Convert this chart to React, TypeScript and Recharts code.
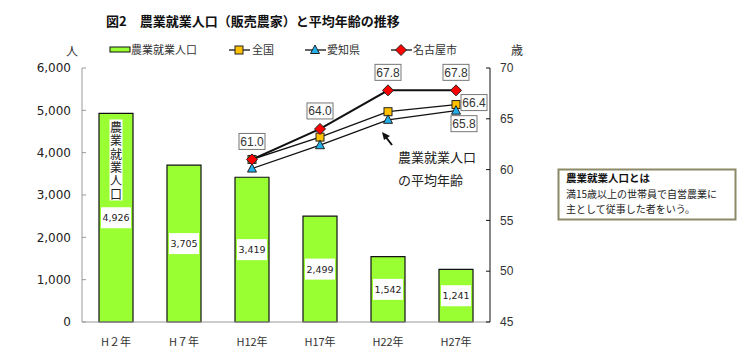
import { ComposedChart, Bar, Line, XAxis, YAxis, LabelList } from 'recharts'

const years = ['H２年', 'H７年', 'H12年', 'H17年', 'H22年', 'H27年']
const farmers = [4926, 3705, 3419, 2499, 1542, 1241]
const zenkoku = [null, null, 61.0, 63.2, 65.7, 66.4]
const aichi = [null, null, 60.1, 62.4, 64.9, 65.8]
const nagoya = [null, null, 61.0, 64.0, 67.8, 67.8]
const leftTicks = [0, 1000, 2000, 3000, 4000, 5000, 6000]
const rightTicks = [45, 50, 55, 60, 65, 70]

const data = years.map((year, i) => ({
  year,
  farmers: farmers[i],
  zenkoku: zenkoku[i],
  aichi: aichi[i],
  nagoya: nagoya[i],
}))

const JP = '"Noto Sans CJK JP", sans-serif'
const BAR_FILL = '#99ff33'
const SQ_FILL = '#ffc000'
const TRI_FILL = '#22aee8'
const DIA_FILL = '#ff0000'

function Square({ cx, cy }: { cx: number; cy: number }) {
  return <rect x={cx - 4} y={cy - 4} width={8} height={8} fill={SQ_FILL} stroke="#222" strokeWidth={1} />
}

function Triangle({ cx, cy }: { cx: number; cy: number }) {
  return (
    <polygon
      points={`${cx},${cy - 5} ${cx + 4.5},${cy + 3.5} ${cx - 4.5},${cy + 3.5}`}
      fill={TRI_FILL}
      stroke="#222"
      strokeWidth={1}
    />
  )
}

function Diamond({ cx, cy }: { cx: number; cy: number }) {
  return (
    <polygon
      points={`${cx},${cy - 5.5} ${cx + 5.5},${cy} ${cx},${cy + 5.5} ${cx - 5.5},${cy}`}
      fill={DIA_FILL}
      stroke="#222"
      strokeWidth={1}
    />
  )
}

function makeDot(Shape: typeof Square) {
  return (props: any) => {
    const { cx, cy, index, value } = props
    if (value == null || cx == null || cy == null) return <g key={`d${index}`} />
    return <Shape key={`d${index}`} cx={cx} cy={cy} />
  }
}

function BoxLabel({ cx, cy, text }: { cx: number; cy: number; text: string }) {
  return (
    <g>
      <rect x={cx - 13} y={cy - 8} width={26} height={16} fill="#fff" stroke="#777" strokeWidth={1} />
      <text x={cx} y={cy + 4.5} textAnchor="middle" fontSize={12} fontFamily="Liberation Sans, Arial" fill="#333">
        {text}
      </text>
    </g>
  )
}

function NagoyaLabel(props: any) {
  const { x, y, value } = props
  if (value == null) return null
  return <BoxLabel cx={x} cy={y - 18} text={Number(value).toFixed(1)} />
}

function ZenkokuLabel(props: any) {
  const { x, y, value, index } = props
  if (value == null || index !== years.length - 1) return null
  return <BoxLabel cx={x + 18} cy={y - 2} text={Number(value).toFixed(1)} />
}

function AichiLabel(props: any) {
  const { x, y, value, index } = props
  if (value == null || index !== years.length - 1) return null
  return <BoxLabel cx={x + 8} cy={y + 13} text={Number(value).toFixed(1)} />
}

function BarValueLabel(props: any) {
  const { x, y, width, height, value, index } = props
  const cx = x + width / 2
  const cy = y + height / 2
  return (
    <g>
      <rect x={cx - 15} y={cy - 10.5} width={30} height={21} fill="#fff" />
      <text x={cx} y={cy + 3.5} textAnchor="middle" fontSize={9.5} fontFamily="DejaVu Sans" fill="#222">
        {Number(value).toLocaleString('en-US')}
      </text>
      {index === 0 && (
        <g>
          <rect x={cx - 6.5} y={y + 6} width={13} height={81} fill="#fff" />
          <text
            x={cx}
            y={y + 8}
            fontSize={12}
            letterSpacing={1.3}
            fontFamily={JP}
            fill="#222"
            style={{ writingMode: 'vertical-rl' }}
          >
            農業就業人口
          </text>
        </g>
      )}
    </g>
  )
}

export default function App() {
  return (
    <div style={{ position: 'absolute', left: 0, top: 0, width: 743, height: 353, background: '#fff' }}>
      <ComposedChart
        width={743}
        height={353}
        data={data}
        margin={{ top: 68, right: 213, bottom: 11, left: 42 }}
      >
        <XAxis
          dataKey="year"
          height={20}
          axisLine={{ stroke: '#999' }}
          tickLine={false}
          tickMargin={10}
          tick={{ fontSize: 11, fill: '#333', fontFamily: JP }}
        />
        <YAxis
          yAxisId="left"
          width={40}
          domain={[0, 6000]}
          ticks={leftTicks}
          interval={0}
          tickFormatter={(v: number) => v.toLocaleString('en-US')}
          axisLine={{ stroke: '#999' }}
          tickLine={{ stroke: '#999' }}
          tickSize={-4}
          tickMargin={15}
          tick={{ fontSize: 12, fill: '#222', fontFamily: 'DejaVu Sans' }}
        />
        <YAxis
          yAxisId="right"
          orientation="right"
          width={40}
          domain={[45, 70]}
          ticks={rightTicks}
          interval={0}
          axisLine={{ stroke: '#111' }}
          tickLine={{ stroke: '#111' }}
          tickSize={-4}
          tickMargin={14}
          tick={{ fontSize: 12, fill: '#333', fontFamily: 'Liberation Sans' }}
        />
        <Bar
          yAxisId="left"
          dataKey="farmers"
          barSize={34}
          fill={BAR_FILL}
          stroke="#111"
          strokeWidth={1.2}
          isAnimationActive={false}
        >
          <LabelList dataKey="farmers" content={BarValueLabel} />
        </Bar>
        <Line
          yAxisId="right"
          dataKey="zenkoku"
          stroke="#111"
          strokeWidth={1.3}
          dot={makeDot(Square)}
          activeDot={false}
          isAnimationActive={false}
        >
          <LabelList dataKey="zenkoku" content={ZenkokuLabel} />
        </Line>
        <Line
          yAxisId="right"
          dataKey="aichi"
          stroke="#111"
          strokeWidth={1.3}
          dot={makeDot(Triangle)}
          activeDot={false}
          isAnimationActive={false}
        >
          <LabelList dataKey="aichi" content={AichiLabel} />
        </Line>
        <Line
          yAxisId="right"
          dataKey="nagoya"
          stroke="#111"
          strokeWidth={2}
          dot={makeDot(Diamond)}
          activeDot={false}
          isAnimationActive={false}
        >
          <LabelList dataKey="nagoya" content={NagoyaLabel} />
        </Line>
      </ComposedChart>

      <svg
        width={743}
        height={353}
        style={{ position: 'absolute', left: 0, top: 0, pointerEvents: 'none' }}
      >
        <text x={106} y={26} fontSize={13} fontWeight="bold" fontFamily={JP} fill="#111">
          図2　農業就業人口（販売農家）と平均年齢の推移
        </text>

        {/* legend */}
        <rect x={110} y={47} width={20} height={5} fill={BAR_FILL} stroke="#111" strokeWidth={1} />
        <text x={131} y={54} fontSize={11} fontFamily={JP} fill="#333">農業就業人口</text>
        <line x1={229} y1={50} x2={250} y2={50} stroke="#111" strokeWidth={1.3} />
        <Square cx={239} cy={50} />
        <text x={252} y={54} fontSize={11} fontFamily={JP} fill="#333">全国</text>
        <line x1={305} y1={50} x2={326} y2={50} stroke="#111" strokeWidth={1.3} />
        <Triangle cx={315} cy={50} />
        <text x={327} y={54} fontSize={11} fontFamily={JP} fill="#333">愛知県</text>
        <line x1={391} y1={50} x2={412} y2={50} stroke="#111" strokeWidth={1.3} />
        <Diamond cx={401} cy={50} />
        <text x={413} y={54} fontSize={11} fontFamily={JP} fill="#333">名古屋市</text>

        {/* units */}
        <text x={72} y={56} textAnchor="middle" fontSize={12} fontFamily={JP} fill="#333">人</text>
        <text x={517} y={55} textAnchor="middle" fontSize={12} fontFamily={JP} fill="#333">歳</text>

        {/* annotation */}
        <line x1={392} y1={145} x2={385} y2={136} stroke="#111" strokeWidth={2} />
        <polygon points="382,132 390,136 384,140" fill="#111" />
        <text x={398} y={162} fontSize={13} fontFamily={JP} fill="#222">農業就業人口</text>
        <text x={398} y={185} fontSize={13} fontFamily={JP} fill="#222">の平均年齢</text>

        {/* note box */}
        <rect x={558.5} y={169.5} width={177} height={50} fill="#fff" stroke="#8c8a66" strokeWidth={2} />
        <text x={566} y={182} fontSize={10.5} fontWeight="bold" fontFamily={JP} fill="#111">農業就業人口とは</text>
        <text x={566} y={197.5} fontSize={10} fontFamily={JP} fill="#222">満15歳以上の世帯員で自営農業に</text>
        <text x={566} y={212.5} fontSize={10} fontFamily={JP} fill="#222">主として従事した者をいう。</text>
      </svg>
    </div>
  )
}
